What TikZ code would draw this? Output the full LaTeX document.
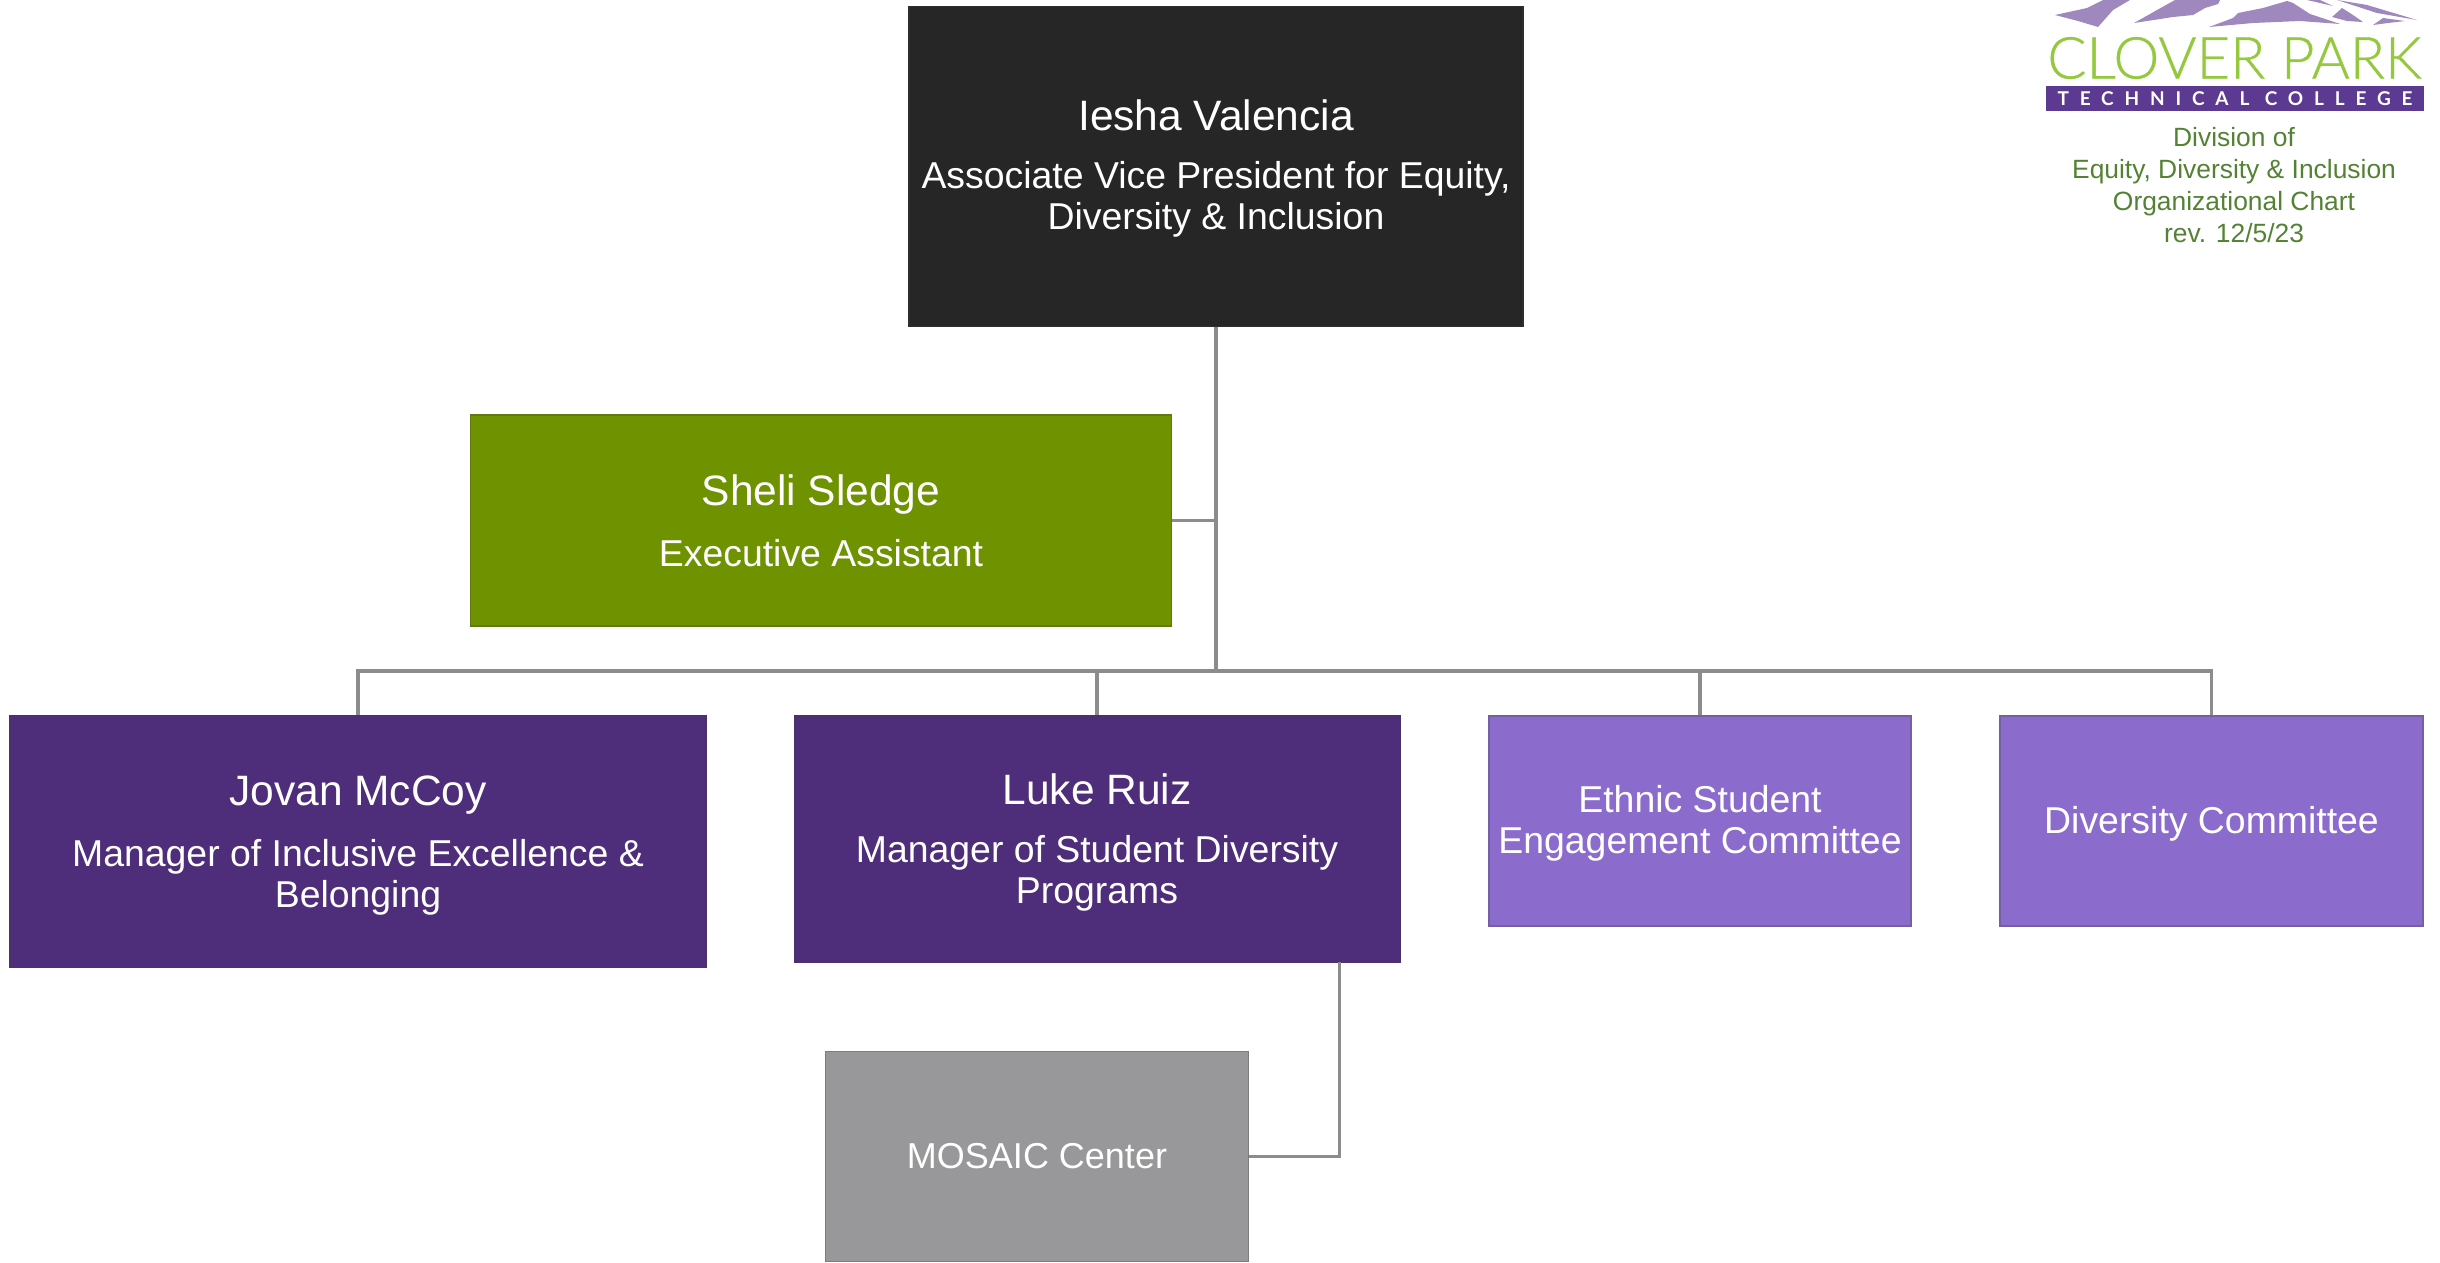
\documentclass[tikz,border=0pt]{standalone}
\usepackage{fontspec}
\usepackage{xcolor}
\setmainfont{Liberation Sans}
\newfontfamily\logofont[FakeBold = 0.6]{Lato Light}
\newfontfamily\collegefont{Lato}
\definecolor{topcolor}{HTML}{262626}
\definecolor{greencolor}{HTML}{6F9200}
\definecolor{darkpurple}{HTML}{4E2D7A}
\definecolor{lightpurple}{HTML}{8B6CCC}
\definecolor{graycolor}{HTML}{98989A}
\definecolor{edgecolor}{HTML}{3F3F3F}
\definecolor{linkcolor}{HTML}{8C8C8C}
\definecolor{captioncolor}{HTML}{548235}
\definecolor{logogreen}{HTML}{94C83D}
\definecolor{logopurple}{HTML}{5C3A92}
\definecolor{peakcolor}{HTML}{9E88BE}
\newcommand{\namefont}{\fontsize{42.5}{41}\selectfont}
\newcommand{\rolefont}{\fontsize{37.4}{41}\selectfont}
\newcommand{\pad}[1]{\rule{0pt}{#1pt}}
\tikzset{
    box/.style = {draw = #1!70!edgecolor, fill = #1, rectangle, line width = 1.5pt, text = white, align = center, inner sep = 0pt, font = \rolefont},
    link/.style = {draw = linkcolor, line width = 3.5pt}
}

\begin{document}
\begin{tikzpicture}
    \useasboundingbox (0pt, 0pt) rectangle (2440pt, -1262pt);
    % Boxes
    \node [box = topcolor, minimum width = 614pt, minimum height = 320pt] (iesha) at (1216pt, -166.5pt) {\pad{34}{\namefont Iesha Valencia}\\[17pt] Associate Vice President for Equity,\\ Diversity \& Inclusion};
    \node [box = greencolor, minimum width = 701pt, minimum height = 211pt] (sheli) at (821pt, -520.5pt) {{\namefont Sheli Sledge}\\[20pt] Executive Assistant};
    \node [box = darkpurple, minimum width = 696pt, minimum height = 252pt] (jovan) at (358pt, -841.5pt) {\pad{37}{\namefont Jovan McCoy}\\[20pt] Manager of Inclusive Excellence \&\\ Belonging};
    \node [box = darkpurple, minimum width = 605.5pt, minimum height = 246pt] (luke) at (1097pt, -839pt) {\pad{37}{\namefont Luke Ruiz}\\[17pt] Manager of Student Diversity\\ Programs};
    \node [box = lightpurple, minimum width = 422pt, minimum height = 210pt] (ethnic) at (1700pt, -821pt) {\pad{32}Ethnic Student\\ Engagement Committee};
    \node [box = lightpurple, minimum width = 423pt, minimum height = 210pt] (diversity) at (2211.5pt, -821pt) {\pad{33}Diversity Committee};
    \node [box = graycolor, minimum width = 423pt, minimum height = 210pt] (mosaic) at (1037pt, -1156.5pt) {\fontsize{36}{41}\selectfont MOSAIC Center};
    % Points where the links turn
    \coordinate (bus) at (1216pt, -671pt);
    \coordinate (drop) at (1339.5pt, -962pt);
    % Draw the links
    \draw [link] (iesha.south) -- (iesha.south |- bus);
    \draw [link] (sheli.east) -- (sheli.east -| iesha.south);
    \draw [link] (jovan.north) -- (jovan.north |- bus) -- (diversity.north |- bus) -- (diversity.north);
    \draw [link] (luke.north) -- (luke.north |- bus);
    \draw [link] (ethnic.north) -- (ethnic.north |- bus);
    \draw [link, line join = miter] (drop) |- (mosaic.east);
    % Logo
    \fill [peakcolor] (2055pt, -15pt) -- (2087pt, -8pt) -- (2103pt, 0pt) -- (2130pt, 0pt) -- (2113pt, -10pt) -- (2098pt, -27pt) -- (2078pt, -21pt) -- cycle;
    \fill [peakcolor] (2134pt, -23pt) -- (2157pt, -10pt) -- (2175pt, 0pt) -- (2220pt, 0pt) -- (2218pt, -4pt) -- (2205pt, -8pt) -- (2193pt, -15pt) -- (2173pt, -17pt) -- cycle;
    \fill [peakcolor] (2209pt, -27pt) -- (2233pt, -18pt) -- (2238pt, -13pt) -- (2263pt, -8pt) -- (2287pt, -1pt) -- (2293pt, -3pt) -- (2310pt, -14pt) -- (2340pt, -24pt) -- (2300pt, -21pt) -- (2253pt, -23pt) -- cycle;
    \fill [peakcolor] (2307pt, 0pt) -- (2333pt, -6pt) -- (2320pt, 0pt) -- cycle;
    \fill [peakcolor] (2337pt, 0pt) -- (2367pt, -5pt) -- (2417pt, -20pt) -- (2377pt, -13pt) -- cycle;
    \fill [peakcolor] (2332pt, -17pt) -- (2342pt, -8pt) -- (2353pt, -15pt) -- (2363pt, -22pt) -- (2347pt, -21pt) -- cycle;
    \fill [peakcolor] (2373pt, -25pt) -- (2383pt, -18pt) -- (2405pt, -21pt) -- (2388pt, -23pt) -- cycle;
    \node [text = logogreen, inner sep = 0pt, font = \logofont\fontsize{58}{58}\selectfont] (clover) at (2234.5pt, -58pt) {CLOVER PARK};
    \node [fill = logopurple, text = white, minimum width = 378pt, minimum height = 25.5pt, inner sep = 0pt, font = \collegefont\bfseries\fontsize{19}{19}\selectfont\addfontfeatures{LetterSpace = 57}] (college) at (2235pt, -98.3pt) {TECHNICAL COLLEGE};
    \node [text = captioncolor, align = center, inner sep = 0pt, font = \fontsize{26.4}{32}\selectfont] (caption) at (2234pt, -185pt) {Division of\\ Equity, Diversity \& Inclusion\\ Organizational Chart\\ rev. 12/5/23};
\end{tikzpicture}
\end{document}
